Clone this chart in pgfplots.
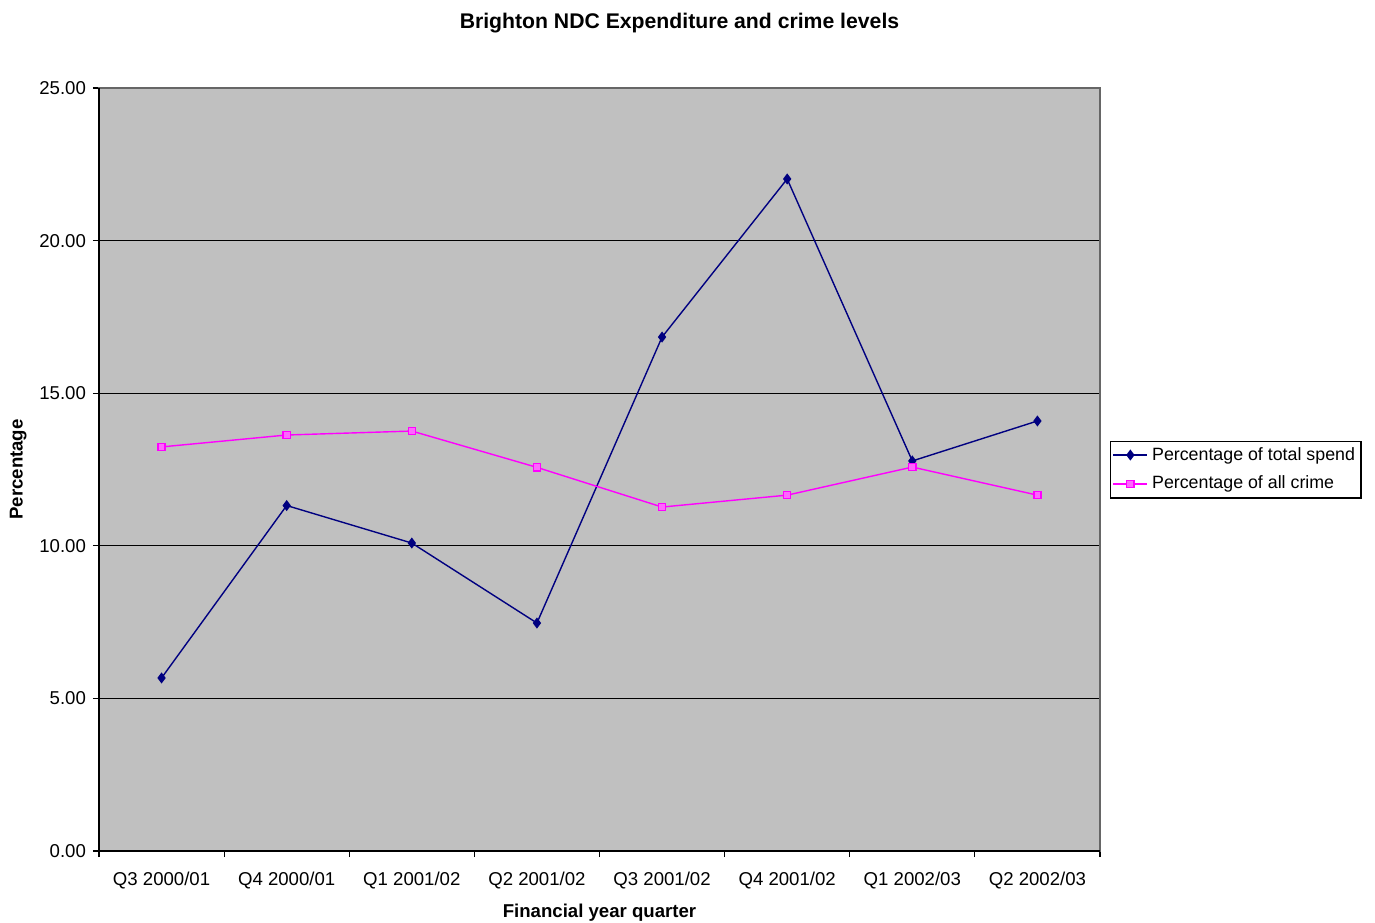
\documentclass[border=0pt]{standalone}
\usepackage{fontspec}
\setmainfont{Liberation Sans}
\usepackage{pgfplots}
\pgfplotsset{compat=1.18}
\definecolor{navyline}{RGB}{0,0,128}
\definecolor{pinkline}{RGB}{255,0,255}
\definecolor{plotbg}{RGB}{192,192,192}
\begin{document}
\begin{tikzpicture}
\useasboundingbox (-49.5pt,-35.5pt) rectangle (638pt,425.5pt);
\begin{axis}[
  scale only axis,
  width=500.5pt, height=381.5pt,
  at={(0pt,0pt)}, anchor=south west,
  xmin=-0.5, xmax=7.5,
  ymin=0, ymax=25,
  axis background/.style={fill=plotbg},
  axis line style={draw=gray!80!black, line width=0.6pt},
  xtick={0,...,7},
  xticklabels={Q3 2000/01,Q4 2000/01,Q1 2001/02,Q2 2001/02,Q3 2001/02,Q4 2001/02,Q1 2002/03,Q2 2002/03},
  major x tick style={draw=none},
  minor xtick={-0.5,0.5,...,7.5},
  minor x tick style={black, line width=0.6pt},
  xtick pos=bottom, ytick pos=left,
  ytick={0,5,...,25},
  ymajorgrids,
  major grid style={black, line width=0.5pt},
  tick align=outside,
  major tick length=3pt,
  minor tick length=3pt,
  ytick style={black, line width=0.6pt},
  yticklabel style={/pgf/number format/.cd, fixed, fixed zerofill, precision=2, /pgf/number format/assume math mode=true},
  tick label style={font=\fontsize{9.3pt}{11pt}\selectfont},
  xticklabel style={yshift=-4pt},
  xlabel={\bfseries Financial year quarter},
  ylabel={\bfseries Percentage},
  label style={font=\fontsize{9.3pt}{11pt}\selectfont},
  xlabel style={yshift=-0.8pt},
  ylabel style={yshift=-0.5pt},
  title={\bfseries Brighton NDC Expenditure and crime levels},
  title style={font=\fontsize{10.6pt}{12pt}\selectfont, yshift=18pt, xshift=40pt},
  legend style={at={(1.01,0.5)}, anchor=west, draw=black, line width=0.6pt,
    font=\fontsize{8.9pt}{10pt}\selectfont, inner sep=1pt, row sep=2.5pt,
    cells={anchor=west}},
  legend cell align=left,
  clip=false,
]
\addplot[navyline, line width=0.7pt, mark=diamond*, mark size=2.2pt, mark options={fill=navyline, draw=navyline}]
coordinates {(0,5.67) (1,11.32) (2,10.09) (3,7.47) (4,16.84) (5,22.02) (6,12.78) (7,14.09)};
\addlegendentry{Percentage of total spend}
\addplot[pinkline, line width=0.7pt, mark=square*, mark size=1.8pt, mark options={fill=pinkline!60!white, draw=pinkline}]
coordinates {(0,13.24) (1,13.63) (2,13.76) (3,12.57) (4,11.27) (5,11.66) (6,12.58) (7,11.66)};
\addlegendentry{Percentage of all crime}
\draw[black, line width=0.6pt] (rel axis cs:0,1) -- (rel axis cs:0,0) -- (rel axis cs:1,0);
\end{axis}
\end{tikzpicture}
\end{document}
